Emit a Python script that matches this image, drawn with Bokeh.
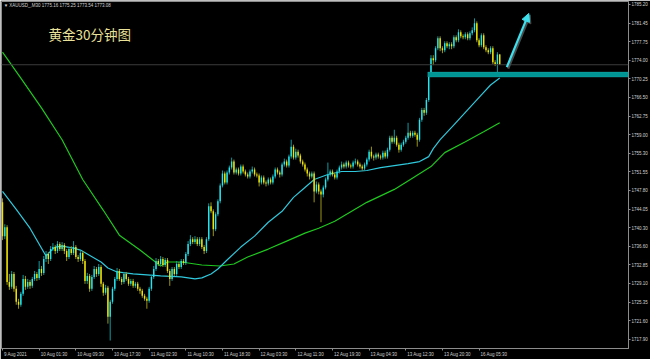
from bokeh.plotting import figure
from bokeh.models import (ColumnDataSource, FixedTicker, Label, BoxAnnotation, Arrow,
                          NormalHead, Span, Range1d, NumeralTickFormatter)
from bokeh.embed import file_html
from bokeh.resources import INLINE

# ---------------- data (XAUUSD M30) ----------------
first_open = 1745.4
closes = [
    1738.6, 1740.4, 1729.4, 1728.4, 1731.0, 1728.0, 1725.4, 1724.8, 1727.0, 1730.0,
    1728.4, 1729.4, 1728.6, 1730.0, 1731.0, 1730.2, 1732.0, 1731.2, 1734.0, 1735.0,
    1734.0, 1736.0, 1736.4, 1735.6, 1737.0, 1736.0, 1736.8, 1735.6, 1734.4, 1736.0,
    1735.2, 1736.4, 1734.4, 1734.0, 1735.2, 1733.6, 1729.6, 1730.6, 1728.0, 1730.4,
    1732.0, 1731.0, 1732.4, 1729.0, 1727.2, 1728.2, 1722.4, 1725.4, 1728.0, 1730.0,
    1731.6, 1730.0, 1729.4, 1731.0, 1730.0, 1729.0, 1729.6, 1728.6, 1729.0, 1728.0,
    1727.6, 1726.6, 1726.0, 1725.6, 1728.0, 1730.4, 1732.0, 1733.6, 1733.0, 1734.0,
    1732.8, 1733.8, 1731.6, 1730.0, 1732.0, 1731.0, 1733.0, 1732.4, 1733.6, 1733.2,
    1735.0, 1737.0, 1738.0, 1737.4, 1738.0, 1737.0, 1738.0, 1736.4, 1735.6, 1738.0,
    1744.6, 1743.6, 1740.0, 1743.0, 1745.6, 1748.8, 1751.2, 1749.4, 1751.4, 1752.4,
    1753.6, 1751.4, 1752.0, 1751.2, 1752.6, 1751.6, 1751.0, 1750.6, 1751.6, 1752.0,
    1751.0, 1750.8, 1749.4, 1750.4, 1749.4, 1749.2, 1750.0, 1749.4, 1750.6, 1752.0,
    1751.4, 1751.0, 1753.0, 1753.6, 1752.8, 1754.6, 1756.6, 1754.4, 1755.6, 1754.8,
    1753.6, 1753.0, 1752.0, 1751.2, 1750.6, 1751.2, 1747.6, 1749.0, 1747.6, 1747.0,
    1748.4, 1750.0, 1751.0, 1751.6, 1751.0, 1750.4, 1751.6, 1752.4, 1753.0, 1752.6,
    1753.4, 1752.8, 1752.6, 1753.4, 1753.6, 1753.0, 1752.6, 1752.2, 1753.0, 1754.0,
    1755.6, 1754.6, 1754.4, 1755.0, 1754.6, 1754.4, 1755.4, 1754.6, 1756.0, 1758.4,
    1757.6, 1758.4, 1757.0, 1756.0, 1757.0, 1757.6, 1758.4, 1759.4, 1758.8, 1759.4,
    1759.0, 1758.0, 1762.0, 1764.0, 1763.4, 1766.0, 1771.0, 1774.4, 1774.0, 1776.4,
    1778.4, 1776.4, 1776.0, 1777.4, 1776.8, 1777.2, 1776.8, 1778.6, 1778.0, 1779.6,
    1778.8, 1778.6, 1779.2, 1778.4, 1779.4, 1780.0, 1781.4, 1778.0, 1777.0, 1779.0,
    1776.6, 1776.0, 1775.6, 1776.4, 1773.6, 1773.2, 1775.16, 1773.08]
highs = [
    1746.2, 1741.0, 1740.8, 1731.0, 1731.6, 1731.4, 1728.6, 1726.0, 1727.4, 1730.8,
    1730.6, 1730.0, 1729.8, 1730.4, 1731.6, 1731.4, 1733.6, 1732.6, 1734.6, 1735.6,
    1735.4, 1736.6, 1737.2, 1736.8, 1737.6, 1737.4, 1737.4, 1737.2, 1736.0, 1736.4,
    1736.6, 1737.6, 1736.8, 1734.8, 1735.6, 1735.6, 1734.0, 1731.2, 1731.0, 1730.8,
    1732.6, 1732.4, 1733.0, 1732.8, 1729.4, 1728.8, 1728.6, 1725.8, 1728.4, 1730.4,
    1732.2, 1732.0, 1730.4, 1731.4, 1731.4, 1730.4, 1730.0, 1730.0, 1729.4, 1729.4,
    1728.4, 1728.0, 1727.0, 1726.4, 1728.4, 1730.8, 1732.6, 1734.2, 1734.0, 1734.6,
    1734.4, 1734.2, 1734.2, 1732.0, 1732.4, 1732.4, 1733.6, 1733.4, 1734.0, 1734.0,
    1735.4, 1737.6, 1738.8, 1738.4, 1738.6, 1738.4, 1738.4, 1738.4, 1736.8, 1738.4,
    1745.2, 1745.4, 1744.0, 1743.4, 1746.0, 1749.2, 1751.8, 1751.6, 1751.8, 1752.8,
    1754.4, 1754.0, 1752.4, 1752.4, 1753.0, 1753.0, 1752.0, 1751.4, 1752.0, 1752.6,
    1752.4, 1751.4, 1751.2, 1750.8, 1750.8, 1749.8, 1750.4, 1750.4, 1751.0, 1752.4,
    1752.4, 1751.8, 1753.4, 1754.2, 1754.0, 1755.0, 1758.0, 1757.0, 1756.2, 1756.0,
    1755.2, 1754.0, 1753.4, 1752.4, 1751.6, 1751.6, 1751.6, 1749.6, 1749.4, 1748.0,
    1748.8, 1750.4, 1753.4, 1752.0, 1752.0, 1751.4, 1752.0, 1752.8, 1753.6, 1753.4,
    1753.8, 1753.8, 1753.2, 1753.8, 1754.2, 1754.0, 1753.4, 1753.0, 1753.4, 1754.4,
    1756.0, 1756.6, 1755.0, 1755.4, 1755.4, 1755.0, 1755.8, 1755.8, 1756.4, 1758.8,
    1758.8, 1760.0, 1758.8, 1757.4, 1757.4, 1758.0, 1758.8, 1761.4, 1759.8, 1759.8,
    1759.8, 1759.4, 1762.4, 1764.4, 1764.4, 1766.4, 1771.6, 1775.0, 1775.0, 1776.8,
    1778.8, 1778.8, 1776.8, 1777.8, 1777.8, 1777.6, 1777.6, 1779.0, 1779.0, 1780.2,
    1780.0, 1779.2, 1779.6, 1779.6, 1779.8, 1780.6, 1782.4, 1781.8, 1778.4, 1779.4,
    1779.4, 1777.0, 1776.4, 1776.8, 1776.8, 1774.0, 1775.6, 1775.25]
lows = [
    1737.8, 1738.0, 1728.8, 1727.8, 1728.0, 1727.4, 1724.8, 1724.0, 1724.4, 1726.6,
    1727.8, 1728.0, 1728.0, 1728.2, 1729.6, 1729.6, 1729.8, 1730.6, 1730.8, 1733.4,
    1733.0, 1733.6, 1735.6, 1735.0, 1735.2, 1735.6, 1735.6, 1735.0, 1733.6, 1734.0,
    1734.8, 1734.8, 1734.0, 1733.4, 1733.6, 1733.0, 1729.0, 1729.0, 1727.4, 1727.6,
    1730.0, 1730.4, 1730.6, 1728.4, 1726.6, 1726.8, 1721.0, 1717.6, 1725.0, 1727.6,
    1729.6, 1729.6, 1728.8, 1729.0, 1729.6, 1728.6, 1728.6, 1728.2, 1728.2, 1727.6,
    1727.0, 1726.2, 1725.6, 1724.0, 1725.2, 1727.6, 1730.0, 1731.6, 1732.6, 1732.6,
    1732.4, 1732.4, 1731.2, 1728.6, 1729.6, 1730.6, 1730.6, 1732.0, 1732.0, 1732.8,
    1732.8, 1734.6, 1736.6, 1737.0, 1737.0, 1736.6, 1736.6, 1736.0, 1735.0, 1735.2,
    1737.6, 1743.2, 1738.6, 1739.6, 1742.6, 1745.2, 1748.4, 1749.0, 1749.0, 1751.0,
    1752.0, 1751.0, 1751.0, 1750.8, 1750.8, 1751.2, 1750.6, 1750.2, 1750.2, 1751.2,
    1750.6, 1750.4, 1748.6, 1749.0, 1749.0, 1748.6, 1748.8, 1749.0, 1749.0, 1750.2,
    1751.0, 1750.4, 1750.6, 1752.6, 1752.4, 1752.4, 1754.2, 1754.0, 1754.0, 1754.4,
    1753.2, 1752.6, 1751.6, 1750.6, 1750.0, 1750.2, 1745.4, 1747.2, 1747.0, 1741.4,
    1746.4, 1748.0, 1749.6, 1750.6, 1750.6, 1750.0, 1750.0, 1751.2, 1752.0, 1752.2,
    1752.2, 1752.4, 1752.2, 1752.2, 1753.0, 1752.6, 1752.2, 1751.8, 1751.8, 1752.6,
    1753.6, 1754.2, 1753.8, 1754.0, 1754.2, 1754.0, 1754.0, 1754.2, 1754.2, 1755.6,
    1757.2, 1757.2, 1756.6, 1755.4, 1755.6, 1756.6, 1757.2, 1758.0, 1758.4, 1758.4,
    1758.6, 1756.6, 1757.6, 1761.6, 1762.8, 1763.0, 1765.6, 1770.6, 1773.0, 1773.6,
    1776.0, 1775.8, 1775.4, 1775.6, 1776.4, 1776.2, 1776.2, 1776.4, 1777.6, 1777.6,
    1778.4, 1778.2, 1778.2, 1778.0, 1778.0, 1779.0, 1779.6, 1777.6, 1776.6, 1776.6,
    1776.2, 1775.6, 1775.2, 1775.2, 1773.2, 1772.8, 1771.4, 1773.08]
opens = [first_open] + closes[:-1]
bars = list(range(len(closes)))

# moving averages (read at sample bars)
ma_fast_bars = [0, 6, 12, 19, 21, 23, 26, 31, 34, 37, 43, 46, 50, 57, 69, 78, 84, 87, 91, 94,
                98, 104, 110, 116, 122, 127, 132, 136, 142, 148, 154, 159, 165, 171, 177, 182,
                186, 188, 191, 197, 203, 209, 213, 217]
ma_fast_vals = [1747.6, 1744.0, 1740.2, 1734.6, 1735.6, 1736.4, 1736.6, 1736.2, 1735.8, 1735.0,
                1733.4, 1732.2, 1731.4, 1731.0, 1730.6, 1730.4, 1730.0, 1730.2, 1731.0, 1732.0,
                1733.8, 1736.4, 1738.6, 1741.4, 1743.6, 1746.4, 1748.4, 1750.0, 1751.0, 1751.6,
                1751.6, 1751.8, 1752.4, 1752.8, 1753.2, 1753.6, 1754.6, 1756.2, 1758.0, 1761.0,
                1764.0, 1767.0, 1769.0, 1770.4]
ma_slow_bars = [0, 8, 17, 26, 35, 44, 51, 60, 69, 72, 78, 84, 87, 95, 101, 107, 116, 124, 132,
                138, 145, 159, 171, 178, 187, 193, 202, 210, 217]
ma_slow_vals = [1775.6, 1770.4, 1764.4, 1758.0, 1750.0, 1743.8, 1738.8, 1735.8, 1732.6, 1733.4,
                1733.4, 1733.0, 1732.8, 1732.6, 1733.0, 1734.4, 1736.0, 1737.6, 1739.2, 1740.2,
                1741.6, 1745.4, 1748.0, 1750.0, 1752.6, 1755.4, 1757.6, 1759.6, 1761.4]

price_ticks = [1785.20, 1781.45, 1777.75, 1774.00, 1770.25, 1766.50, 1762.75, 1759.00, 1755.30,
               1751.55, 1747.80, 1744.05, 1740.30, 1736.60, 1732.85, 1729.10, 1725.35, 1721.60,
               1717.90]
time_tick_bars = [0, 16, 32, 48, 64, 80, 96, 112, 128, 144, 160, 176, 192, 208]
time_tick_labels = ["9 Aug 2021", "10 Aug 01:30", "10 Aug 09:30", "10 Aug 17:30", "11 Aug 02:30",
                    "11 Aug 10:30", "11 Aug 18:30", "12 Aug 03:30", "12 Aug 11:30", "12 Aug 19:30",
                    "13 Aug 04:30", "13 Aug 12:30", "13 Aug 20:30", "16 Aug 05:30"]

last_price = 1773.08
header_text = "\u25BC XAUUSD_,M30  1775.16 1775.25 1773.54 1773.08"
title_text = "黄金30分钟图"
support_top = 1771.6
support_bottom = 1770.6
support_start_bar = 185.6
arrow_from = (220.1, 1772.6)
arrow_to = (229.7, 1783.4)

# ---------------- styling ----------------
UP = "#22E6F0"
DOWN = "#F2E600"
UP_WICK = "#12989E"
DOWN_WICK = "#9A9418"
GRID_GRAY = "#8c8c8c"
LABEL_GRAY = "#d2d2d2"
SMALL_PX = 4.5
SMALL = f"{SMALL_PX}px"
SMALL_FONT = "Liberation Sans"
X_MIN, X_MAX = -0.44, 273.2
Y_MIN, Y_MAX = 1716.0, 1785.8
FRAME_W = 628

up_flags = [c >= o for o, c in zip(opens, closes)]
src = ColumnDataSource(dict(
    bar=bars,
    high=highs,
    low=lows,
    body_top=[max(o, c) for o, c in zip(opens, closes)],
    body_bot=[min(o, c) for o, c in zip(opens, closes)],
    body_color=[UP if u else DOWN for u in up_flags],
    wick_color=[UP_WICK if u else DOWN_WICK for u in up_flags],
))

p = figure(width=650, height=359, output_backend="svg", toolbar_location=None,
           x_range=Range1d(X_MIN, X_MAX), y_range=Range1d(Y_MIN, Y_MAX),
           y_axis_location="right",
           background_fill_color="black", border_fill_color="black",
           min_border_left=1, min_border_top=1, min_border_right=21, min_border_bottom=9,
           outline_line_color=GRID_GRAY, outline_line_width=1)
p.grid.visible = False

# --- time axis: MetaTrader puts each label to the right of its tick mark.
# Bokeh centres axis labels, so the label is placed at (tick + half its width)
# and the real tick positions are drawn as the (minor) tick marks.
EM = {" ": 0.278, ":": 0.278, "A": 0.667, "u": 0.556, "g": 0.556}
px_per_bar = FRAME_W / (X_MAX - X_MIN)

def half_width_bars(txt):
    w = sum(EM.get(ch, 0.556) for ch in txt) * SMALL_PX
    return (w / 2 + 1.5) / px_per_bar

label_pos = [round(b + half_width_bars(t), 3) for b, t in zip(time_tick_bars, time_tick_labels)]
p.xaxis.ticker = FixedTicker(ticks=label_pos, minor_ticks=time_tick_bars)
p.xaxis.major_label_overrides = {pos: t for pos, t in zip(label_pos, time_tick_labels)}
p.xaxis.major_tick_line_color = None
p.xaxis.minor_tick_line_color = GRID_GRAY
p.xaxis.minor_tick_in = 0
p.xaxis.minor_tick_out = 2

p.yaxis.ticker = FixedTicker(ticks=price_ticks)
p.yaxis.formatter = NumeralTickFormatter(format="0.00")
p.yaxis.major_tick_line_color = GRID_GRAY
p.yaxis.minor_tick_line_color = None
for ax in (p.xaxis, p.yaxis):
    ax.axis_line_color = GRID_GRAY
    ax.major_tick_in = 0
    ax.major_tick_out = 2
    ax.major_label_standoff = 1
    ax.major_label_text_font_size = SMALL
    ax.major_label_text_color = LABEL_GRAY
    ax.major_label_text_font = SMALL_FONT

# price line
p.add_layout(Span(location=last_price, dimension="width", line_color="#3c3c3c", line_width=1))

# support zone
p.add_layout(BoxAnnotation(left=support_start_bar, bottom=support_bottom, top=support_top,
                           fill_color="#009595", fill_alpha=1.0, line_color="#33AFAF", line_width=1))

# moving averages
p.line(ma_slow_bars, ma_slow_vals, line_color="#1FC81F", line_width=1.2)
p.line(ma_fast_bars, ma_fast_vals, line_color="#2FC8DC", line_width=1.2)

# candles
p.segment(x0="bar", y0="low", x1="bar", y1="high", line_color="wick_color", line_width=1, source=src)
p.vbar(x="bar", top="body_top", bottom="body_bot", width=0.62,
       fill_color="body_color", line_color=None, source=src)

# arrow with shadow
p.add_layout(Arrow(end=NormalHead(size=8, fill_color="#4a4a4a", line_color="#4a4a4a"),
                   x_start=arrow_from[0] + 0.6, y_start=arrow_from[1] - 0.3,
                   x_end=arrow_to[0] + 0.6, y_end=arrow_to[1] - 0.3,
                   line_color="#4a4a4a", line_width=2.2))
p.add_layout(Arrow(end=NormalHead(size=8, fill_color="#3FE0EE", line_color="#3FE0EE"),
                   x_start=arrow_from[0], y_start=arrow_from[1],
                   x_end=arrow_to[0], y_end=arrow_to[1],
                   line_color="#3FE0EE", line_width=2.2))

# texts
p.add_layout(Label(x=0.5, y=1784.9, text=header_text, text_font_size=SMALL,
                   text_color=LABEL_GRAY, text_baseline="middle", text_font=SMALL_FONT))
p.add_layout(Label(x=20.1, y=1779.2, text=title_text, text_font_size="13.5px",
                   text_color="#EBE29A", text_baseline="middle", text_font="Noto Sans CJK SC"))
p.add_layout(Label(x=273.5, y=last_price, text=f"{last_price:.2f}", text_font_size=SMALL,
                   text_color="black", background_fill_color="white", text_baseline="middle",
                   text_font=SMALL_FONT))

open("out.html", "w").write(file_html(p, INLINE))
